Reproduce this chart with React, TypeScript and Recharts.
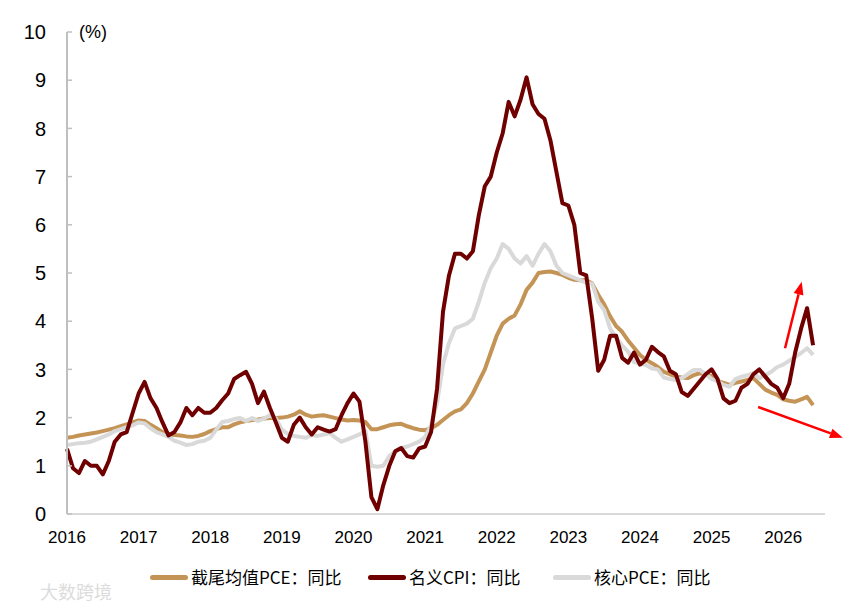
import { LineChart, Line, XAxis, YAxis, ReferenceLine } from "recharts";

// monthly, Jan 2016 .. Jun 2026
const trimmedPce = [
  1.58, 1.6, 1.63, 1.65, 1.67, 1.69, 1.72, 1.75, 1.78, 1.82, 1.86, 1.9, // 2016
  1.94, 1.93, 1.85, 1.78, 1.7, 1.66, 1.64, 1.63, 1.61, 1.6, 1.62, 1.66, // 2017
  1.72, 1.76, 1.8, 1.8, 1.86, 1.9, 1.93, 1.95, 1.96, 1.98, 1.99, 1.99, // 2018
  2.0, 2.02, 2.06, 2.13, 2.06, 2.02, 2.04, 2.05, 2.02, 1.99, 1.96, 1.94, // 2019
  1.95, 1.94, 1.91, 1.76, 1.76, 1.8, 1.84, 1.86, 1.87, 1.82, 1.78, 1.75, // 2020
  1.74, 1.78, 1.85, 1.95, 2.05, 2.13, 2.17, 2.3, 2.5, 2.75, 3.0, 3.35, // 2021
  3.7, 3.95, 4.05, 4.12, 4.35, 4.65, 4.8, 5.0, 5.02, 5.03, 5.0, 4.96, // 2022
  4.9, 4.86, 4.85, 4.85, 4.78, 4.55, 4.35, 4.1, 3.9, 3.78, 3.6, 3.45, // 2023
  3.3, 3.2, 3.13, 3.05, 2.95, 2.9, 2.85, 2.83, 2.82, 2.88, 2.92, 2.9, // 2024
  2.86, 2.76, 2.72, 2.68, 2.72, 2.75, 2.78, 2.82, 2.7, 2.58, 2.52, 2.47, // 2025
  2.38, 2.35, 2.33, 2.38, 2.43, 2.26, // 2026
];

const cpi = [
  1.35, 0.95, 0.85, 1.1, 1.0, 1.0, 0.82, 1.1, 1.5, 1.65, 1.7, 2.1,
  2.5, 2.74, 2.4, 2.2, 1.9, 1.63, 1.7, 1.9, 2.2, 2.05, 2.2, 2.1,
  2.1, 2.2, 2.36, 2.5, 2.8, 2.88, 2.95, 2.7, 2.3, 2.54, 2.2, 1.9,
  1.58, 1.5, 1.85, 2.0, 1.8, 1.65, 1.8, 1.75, 1.71, 1.76, 2.05, 2.3,
  2.5, 2.33, 1.5, 0.35, 0.1, 0.6, 1.0, 1.3, 1.37, 1.2, 1.17, 1.36,
  1.4, 1.7, 2.6, 4.2, 4.95, 5.4, 5.4, 5.3, 5.45, 6.2, 6.8, 7.0,
  7.5, 7.9, 8.55, 8.25, 8.6, 9.06, 8.5, 8.3, 8.2, 7.75, 7.1, 6.45,
  6.4, 6.0, 5.0, 4.95, 4.05, 2.97, 3.2, 3.7, 3.7, 3.24, 3.14, 3.35,
  3.1, 3.2, 3.47, 3.36, 3.27, 2.97, 2.9, 2.53, 2.45, 2.6, 2.75, 2.9,
  3.0, 2.8, 2.4, 2.3, 2.35, 2.62, 2.7, 2.9, 3.0, 2.85, 2.7, 2.62,
  2.4, 2.7, 3.35, 3.85, 4.27, 3.5,
];

const corePce = [
  1.43, 1.45, 1.47, 1.48, 1.5, 1.55, 1.6, 1.65, 1.72, 1.76, 1.8, 1.84,
  1.9, 1.88, 1.78, 1.7, 1.65, 1.6, 1.52, 1.48, 1.43, 1.45, 1.5, 1.52,
  1.58, 1.75, 1.91, 1.93, 1.97, 1.99, 1.93, 1.99, 1.93, 1.98, 2.05, 1.98,
  1.75, 1.66, 1.62, 1.6, 1.58, 1.64, 1.62, 1.65, 1.68, 1.58, 1.5, 1.55,
  1.6, 1.65, 1.72, 1.0, 0.98, 1.0, 1.2, 1.3, 1.37, 1.4, 1.45, 1.5,
  1.6, 1.85, 2.3, 3.1, 3.55, 3.85, 3.9, 3.95, 4.05, 4.4, 4.8, 5.1,
  5.3, 5.6, 5.5, 5.3, 5.2, 5.35, 5.15, 5.4, 5.6, 5.45, 5.15, 5.0,
  4.95, 4.9, 4.85, 4.8, 4.78, 4.4, 4.23, 3.85, 3.65, 3.5, 3.37, 3.15,
  3.12, 3.09, 3.02, 3.0, 2.83, 2.8, 2.78, 2.82, 2.9, 2.99, 2.99, 2.9,
  2.8, 2.76, 2.68, 2.64, 2.8, 2.85, 2.88, 2.92, 2.82, 2.88, 2.95, 3.05,
  3.1, 3.18, 3.26, 3.34, 3.44, 3.3,
];

const years = [2016, 2017, 2018, 2019, 2020, 2021, 2022, 2023, 2024, 2025, 2026];
const yTicks = [0, 1, 2, 3, 4, 5, 6, 7, 8, 9, 10];

const series = [
  { key: "trimmed", name: "截尾均值PCE：同比", color: "#c49456" },
  { key: "core", name: "核心PCE：同比", color: "#d9d9d9" },
  { key: "cpi", name: "名义CPI：同比", color: "#700000" },
];
const legendOrder = ["trimmed", "cpi", "core"];
const legendLeft = [150, 368, 553];

// red annotation arrows, in (month index, %) coordinates
const arrows = [
  { from: { x: 120.3, y: 3.44 }, to: { x: 123.1, y: 4.82 } },
  { from: { x: 115.8, y: 2.22 }, to: { x: 130, y: 1.58 } },
];

const data = cpi.map((v, i) => ({
  t: i,
  cpi: v,
  trimmed: trimmedPce[i],
  core: corePce[i],
}));

const YTick = (props: any) => {
  const { x, y, payload } = props;
  return (
    <g>
      <line x1={x} x2={x + 5} y1={y} y2={y} stroke="#bfbfbf" strokeWidth={1.5} />
      <text
        x={x - 21}
        y={y}
        dy="0.36em"
        textAnchor="end"
        fontSize={20}
        fontFamily="Liberation Sans, Arial, sans-serif"
        fill="#000"
      >
        {payload.value}
      </text>
    </g>
  );
};

const Arrow = (props: any) => {
  const { x1, y1, x2, y2 } = props;
  const a = Math.atan2(y2 - y1, x2 - x1);
  const len = 13;
  const half = 5;
  const bx = x2 - len * Math.cos(a);
  const by = y2 - len * Math.sin(a);
  const pts = [
    `${x2},${y2}`,
    `${bx + half * Math.sin(a)},${by - half * Math.cos(a)}`,
    `${bx - half * Math.sin(a)},${by + half * Math.cos(a)}`,
  ].join(" ");
  return (
    <g>
      <line x1={x1} y1={y1} x2={bx} y2={by} stroke="#ff0000" strokeWidth={2.5} />
      <polygon points={pts} fill="#ff0000" />
    </g>
  );
};

export default function App() {
  return (
    <div
      style={{
        position: "absolute",
        left: 0,
        top: 0,
        width: 864,
        height: 607,
        background: "#fff",
        overflow: "hidden",
      }}
    >
      <LineChart
        width={864}
        height={607}
        data={data}
        margin={{ top: 32, right: 39, bottom: 63, left: 0 }}
      >
        <XAxis
          type="number"
          dataKey="t"
          domain={[0, 127]}
          ticks={years.map((y) => (y - 2016) * 12)}
          tickFormatter={(t) => String(2016 + t / 12)}
          interval={0}
          height={30}
          tickLine={false}
          tickSize={0}
          tickMargin={17}
          axisLine={{ stroke: "#d9d9d9", strokeWidth: 2 }}
          tick={{ fill: "#000", fontSize: 17, fontFamily: "Liberation Sans, Arial, sans-serif" }}
        />
        <YAxis
          type="number"
          domain={[0, 10]}
          ticks={yTicks}
          interval={0}
          width={67}
          tickLine={false}
          tickSize={0}
          tickMargin={0}
          axisLine={{ stroke: "#bfbfbf", strokeWidth: 2 }}
          tick={<YTick />}
        />
        {series.map((s) => (
          <Line
            key={s.key}
            type="linear"
            dataKey={s.key}
            name={s.name}
            stroke={s.color}
            strokeWidth={4}
            strokeLinejoin="round"
            dot={false}
            activeDot={false}
            isAnimationActive={false}
          />
        ))}
        {arrows.map((a, i) => (
          <ReferenceLine
            key={i}
            segment={[a.from, a.to]}
            ifOverflow="visible"
            stroke="#ff0000"
            shape={<Arrow />}
          />
        ))}
      </LineChart>

      <div
        style={{
          position: "absolute",
          left: 79,
          top: 21,
          fontSize: 18,
          lineHeight: "22px",
          fontFamily: "Liberation Sans, Arial, sans-serif",
          color: "#000",
        }}
      >
        (%)
      </div>

      {legendOrder.map((k, i) => {
        const s = series.find((x) => x.key === k)!;
        return (
          <div
            key={k}
            style={{
              position: "absolute",
              left: legendLeft[i],
              top: 566,
              height: 22,
              display: "flex",
              alignItems: "center",
              whiteSpace: "nowrap",
            }}
          >
            <div
              style={{
                width: 38,
                height: 5,
                borderRadius: 2.5,
                background: s.color,
                marginRight: 3,
              }}
            />
            <span
              style={{
                fontSize: 17,
                lineHeight: "22px",
                fontFamily: "Noto Sans CJK SC, sans-serif",
                color: "#000",
              }}
            >
              {s.name}
            </span>
          </div>
        );
      })}

      <div
        style={{
          position: "absolute",
          left: 40,
          top: 580,
          fontSize: 18,
          lineHeight: "22px",
          fontFamily: "Noto Sans CJK SC, sans-serif",
          color: "#dcdcdc",
        }}
      >
        大数跨境
      </div>
    </div>
  );
}
